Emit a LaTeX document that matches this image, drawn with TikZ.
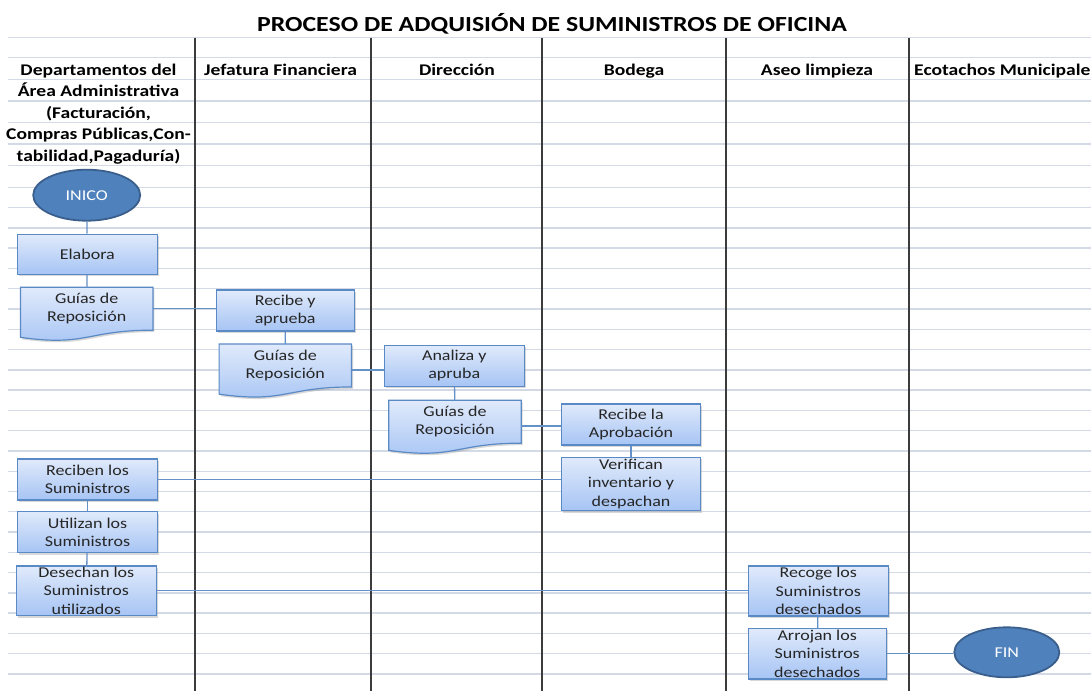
\documentclass[tikz,border=0pt]{standalone}
\usepackage{fontspec}
\setmainfont{Carlito}[FakeStretch=1.2]
\usepackage{xcolor}
\usepackage{tikz}
\usetikzlibrary{calc}
\usetikzlibrary{positioning}
\usetikzlibrary{shadows}
\usetikzlibrary{backgrounds}
\usetikzlibrary{shapes.geometric}
\definecolor{gridgray}{HTML}{D3DAE6}
\definecolor{lanegray}{HTML}{3C3C3C}
\definecolor{boxblue}{HTML}{5A8AC6}
\definecolor{boxtop}{HTML}{E0EAFB}
\definecolor{boxbottom}{HTML}{A6C4F4}
\definecolor{ovalfill}{HTML}{4F81BD}
\definecolor{ovaldraw}{HTML}{3A5F8C}
\definecolor{linkblue}{HTML}{6591C9}

\begin{document}
\begin{tikzpicture}[x=1pt,y=-1pt,
    gridline/.style={draw=gridgray, line width=1.4pt},
    laneline/.style={draw=lanegray, line width=1.8pt},
    boxshadow/.style={drop shadow={shadow xshift=1.5pt, shadow yshift=-2pt, opacity=0.3}},
    stepbox/.style={draw=boxblue, line width=1.2pt, top color=boxtop, bottom color=boxbottom,
      minimum width=140pt, minimum height=41pt, inner sep=0pt, align=center,
      text=black!85, font=\fontsize{15}{18.3}\selectfont, boxshadow},
    docbox/.style={minimum width=132pt, minimum height=42.5pt, inner sep=0pt, align=center,
      text=black!85, font=\fontsize{15}{18.5}\selectfont},
    docshape/.style={draw=boxblue, line width=1.2pt, top color=boxtop, bottom color=boxbottom, boxshadow},
    oval/.style={ellipse, draw=ovaldraw, line width=1.8pt, fill=ovalfill, text=white,
      minimum width=107pt, minimum height=51pt, inner sep=0pt, font=\fontsize{15}{18}\selectfont},
    lanehead/.style={font=\bfseries\fontsize{16.3}{21.6}\selectfont, align=center, inner sep=0pt},
    link/.style={draw=linkblue, line width=1.3pt},
  ]
    \useasboundingbox (0,0) rectangle (1091,691);
    \clip (0,0) rectangle (1091,691);
    % sheet grid and lanes
    \begin{scope}[on background layer]
      \fill[white] (0,0) rectangle (1091,691);
      \foreach \gy in {37.7,57.7,79.5,101,122.5,144,165.7}
        \draw[gridline] (8,\gy) -- (1091,\gy);
      \foreach \k in {0,...,24}
        \draw[gridline] (8,{187.3+20.28*\k}) -- (1091,{187.3+20.28*\k});
      \foreach \lx in {195,370.7,542.3,725.7,909}
        \draw[laneline] (\lx,37.7) -- (\lx,691);
    \end{scope}

    \node[font=\bfseries\fontsize{21.5}{24}\selectfont, anchor=base] (titulo) at (552,31.5)
      {PROCESO DE ADQUISIÓN DE SUMINISTROS DE OFICINA};
    \node[lanehead, anchor=north] (hdadmin) at (98.5,63.5)
      {Departamentos del\\Área Administrativa\\(Facturación,\\Compras Públicas,Con-\\tabilidad,Pagaduría)};
    \node[lanehead, anchor=base] (hdfin) at (280.5,75.5) {Jefatura Financiera};
    \node[lanehead, anchor=base] (hddir) at (457,75.5) {Dirección};
    \node[lanehead, anchor=base] (hdbod) at (634,75.5) {Bodega};
    \node[lanehead, anchor=base] (hdaseo) at (817,75.5) {Aseo limpieza};
    \node[lanehead, anchor=base west] (hdeco) at (914,75.5) {Ecotachos Municipales};

    \node[oval] (inico) at (86.7,195.2) {INICO};
    \node[stepbox, minimum height=40pt] (elabora) at (87.3,254.2) {Elabora};
    \node[docbox] (guia1) at (86.7,308.7) {Guías de\\Reposición};
    \node[stepbox, minimum width=138pt] (recibe) at (285.2,310.5) {Recibe y\\aprueba};
    \node[docbox] (guia2) at (285.3,365.5) {Guías de\\Reposición};
    \node[stepbox] (analiza) at (454.3,365.8) {Analiza y\\apruba};
    \node[docbox] (guia3) at (455,421.7) {Guías de\\Reposición};
    \node[stepbox, minimum width=139pt] (aprob) at (631,424.5) {Recibe la\\Aprobación};
    \node[stepbox, minimum width=139pt, minimum height=53.5pt] (verifica) at (631,484)
      {Verifican\\inventario y\\despachan};
    \node[stepbox] (reciben) at (87.5,479.5) {Reciben los\\Suministros};
    \node[stepbox] (utilizan) at (87.5,532) {Utilizan los\\Suministros};
    \node[stepbox, minimum height=49.5pt] (desechan) at (86.3,590.8)
      {Desechan los\\Suministros\\utilizados};
    \node[stepbox, minimum height=50pt] (recoge) at (818.3,591)
      {Recoge los\\Suministros\\desechados};
    \node[stepbox, minimum width=138pt, minimum height=50.5pt] (arrojan) at (817.2,653.7)
      {Arrojan los\\Suministros\\desechados};
    \node[oval, minimum width=105pt, minimum height=50pt] (fin) at (1006.8,652.3) {FIN};

    % wavy outline of the document boxes
    \begin{scope}[on background layer]
      \foreach \g in {guia1,guia2,guia3}
        \path[docshape] (\g.north west) -- (\g.north east) -- (\g.south east)
          .. controls (\g.south) and ($(\g.south)+(0,16.6)$) .. ($(\g.south west)+(0,7.2)$) -- cycle;
    \end{scope}

    \path[link] (inico) edge (elabora);
    \path[link] (elabora) edge (guia1);
    \path[link] (guia1.east) edge (guia1.east -| recibe.west);
    \path[link] (recibe) edge (guia2);
    \path[link] ($(guia2.east)+(0,4.5)$) edge ($(guia2.east -| analiza.west)+(0,4.5)$);
    \path[link] (analiza) edge (guia3);
    \path[link] ($(guia3.east)+(0,4.3)$) edge ($(guia3.east -| aprob.west)+(0,4.3)$);
    \path[link] (aprob) edge (verifica);
    \path[link] (reciben.east) edge (reciben.east -| verifica.west);
    \path[link] (reciben) edge (utilizan);
    \path[link] (utilizan) edge (desechan);
    \path[link] (desechan.east) edge (desechan.east -| recoge.west);
    \path[link] (recoge) edge (arrojan);
    \path[link] (arrojan.east) edge (arrojan.east -| fin.west);
  \end{tikzpicture}
\end{document}
